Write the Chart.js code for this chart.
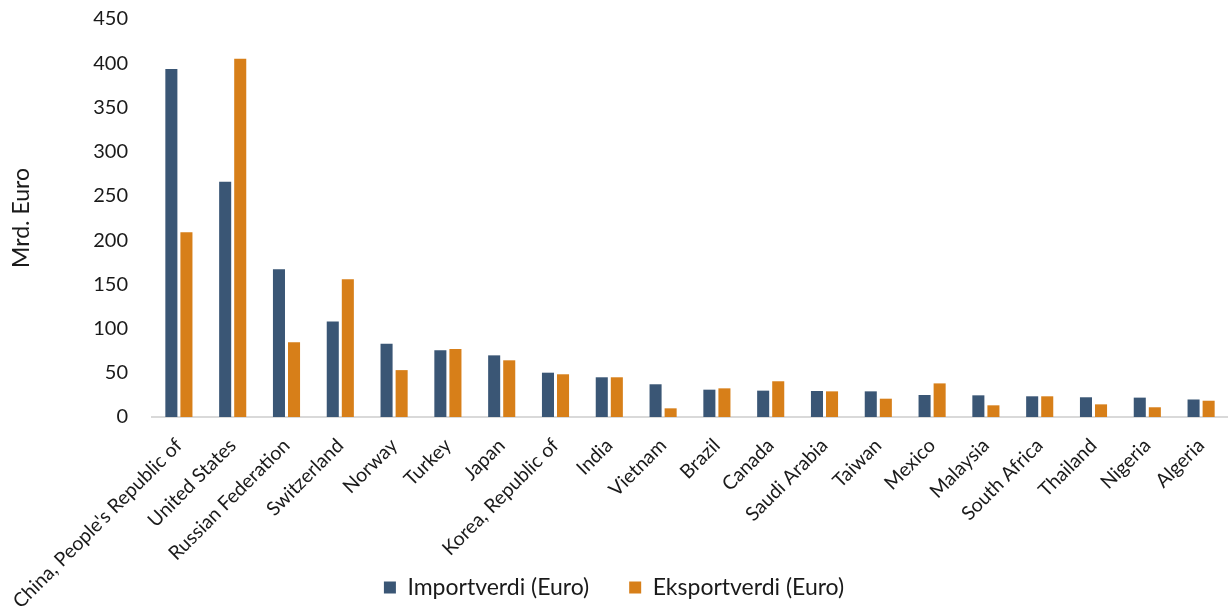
<!DOCTYPE html>
<html>
<head>
<meta charset="utf-8">
<script src="https://cdn.jsdelivr.net/npm/chart.js@4.4.0/dist/chart.umd.min.js"></script>
<style>
  html, body { margin: 0; padding: 0; background: #ffffff; }
  #wrap { width: 1228px; height: 609px; position: relative; }
</style>
</head>
<body>
<div id="wrap"><canvas id="c" width="1228" height="609"></canvas></div>
<script>
const categories = ["China, People's Republic of", "United States", "Russian Federation", "Switzerland", "Norway", "Turkey", "Japan", "Korea, Republic of", "India", "Vietnam", "Brazil", "Canada", "Saudi Arabia", "Taiwan", "Mexico", "Malaysia", "South Africa", "Thailand", "Nigeria", "Algeria"];
const importValues = [393.5, 266, 167, 108, 82.9, 75.4, 69.7, 50.1, 44.9, 37, 30.9, 29.8, 29.4, 29, 24.9, 24.5, 23.4, 22.3, 21.9, 19.8];
const exportValues = [208.8, 405, 84.4, 155.7, 53, 77, 64.1, 48.3, 44.9, 9.8, 32.4, 40.4, 29, 20.7, 38, 13.2, 23.4, 14.3, 11, 18.4];
const seriesNames = ["Importverdi (Euro)", "Eksportverdi (Euro)"];
const yTicks = [0, 50, 100, 150, 200, 250, 300, 350, 400, 450];
const yTitle = "Mrd. Euro";

const FONT = "Lato, 'Open Sans', sans-serif";
const TEXT = '#1a1a1a';

// Let the rotated x labels use the space down to the canvas bottom (they overlap the legend band as in the reference)
const extendXAxis = {
  id: 'extendXAxis',
  afterLayout(chart) {
    const x = chart.scales.x;
    x.bottom = chart.height;
    x.height = x.bottom - x.top;
  }
};

new Chart(document.getElementById('c'), {
  type: 'bar',
  data: {
    labels: categories,
    datasets: [
      { label: seriesNames[0], data: importValues, backgroundColor: '#3A5675', categoryPercentage: 0.56, barPercentage: 0.8 },
      { label: seriesNames[1], data: exportValues, backgroundColor: '#D77F19', categoryPercentage: 0.56, barPercentage: 0.8 }
    ]
  },
  plugins: [extendXAxis],
  options: {
    responsive: false,
    animation: false,
    devicePixelRatio: 1,
    layout: { padding: { top: 19, right: 0, left: 0, bottom: 0 } },
    plugins: {
      legend: {
        position: 'bottom',
        labels: {
          boxWidth: 12, boxHeight: 12, padding: 40,
          color: TEXT,
          font: { family: FONT, size: 23 }
        }
      },
      tooltip: { enabled: false }
    },
    scales: {
      x: {
        grid: { display: false, drawTicks: false },
        border: { display: true, color: '#D9D9D9', width: 2 },
        ticks: {
          autoSkip: false, minRotation: 45, maxRotation: 45,
          color: TEXT, padding: 17,
          font: { family: FONT, size: 19.5 }
        },
        afterFit: (s) => { s.height = 119; s.paddingLeft = 0; s.paddingRight = 0; }
      },
      y: {
        min: 0, max: 450,
        afterBuildTicks: (s) => { s.ticks = yTicks.map(v => ({ value: v })); },
        grid: { display: false, drawTicks: false },
        border: { display: false },
        ticks: {
          color: TEXT, padding: 24,
          font: { family: FONT, size: 20 }
        },
        title: {
          display: true, text: yTitle, color: TEXT,
          font: { family: FONT, size: 23 }, padding: { top: 8, bottom: 0 }
        },
        afterFit: (s) => { s.width = 152; s.paddingTop = 0; s.paddingBottom = 0; }
      }
    }
  }
});
</script>
</body>
</html>
